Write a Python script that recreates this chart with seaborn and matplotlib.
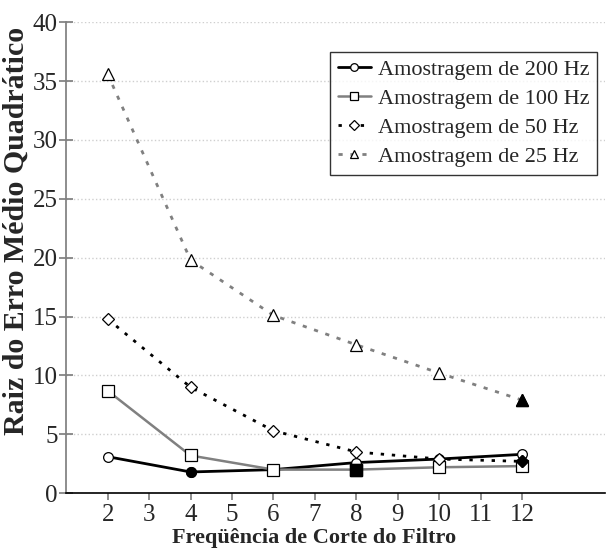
import matplotlib
matplotlib.use("Agg")
import matplotlib.pyplot as plt
import seaborn as sns
import pandas as pd

# Data
freq = [2, 4, 6, 8, 10, 12]
rmse_200 = [3.1, 1.8, 2.0, 2.6, 2.9, 3.3]
rmse_100 = [8.7, 3.2, 2.0, 2.0, 2.2, 2.3]
rmse_50 = [14.8, 9.0, 5.3, 3.5, 2.9, 2.7]
rmse_25 = [35.6, 19.8, 15.1, 12.6, 10.2, 7.9]
series_names = ["Amostragem de 200 Hz", "Amostragem de 100 Hz",
                "Amostragem de 50 Hz", "Amostragem de 25 Hz"]
# points drawn with a filled marker in the original
filled_idx = [1, 3, 5, 5]

sns.set_theme(style="white")
plt.rcParams['font.family'] = ['Liberation Serif', 'DejaVu Serif']

rows = []
for name, vals in zip(series_names, [rmse_200, rmse_100, rmse_50, rmse_25]):
    for f, v in zip(freq, vals):
        rows.append({"freq": f, "rmse": v, "serie": name})
df = pd.DataFrame(rows)

fig, ax = plt.subplots(figsize=(6.07, 5.56), dpi=100)
fig.subplots_adjust(left=0.109, right=0.997, bottom=0.113, top=0.960)

styles = {
    series_names[0]: dict(color="black", lw=2.0, ls="-", marker="o"),
    series_names[1]: dict(color="#808080", lw=1.8, ls="-", marker="s"),
    series_names[2]: dict(color="black", lw=2.0, ls=(0, (1.2, 2.8)), marker="D"),
    series_names[3]: dict(color="#808080", lw=2.0, ls=(0, (1.5, 2.8)), marker="^"),
}
msizes = {"o": 7, "s": 8, "D": 6.5, "^": 8}

for i, name in enumerate(series_names):
    st = styles[name]
    sub = df[df["serie"] == name]
    sns.lineplot(data=sub, x="freq", y="rmse", ax=ax, color=st["color"],
                 lw=st["lw"], ls=st["ls"], marker=st["marker"],
                 markersize=msizes[st["marker"]], markerfacecolor="white",
                 markeredgecolor="black", markeredgewidth=0.9, label=name)
    k = filled_idx[i]
    ax.plot(sub["freq"].iloc[k], sub["rmse"].iloc[k], marker=st["marker"],
            markersize=msizes[st["marker"]], color="black", ls="none")

ax.set_xlim(1, 14)
ax.set_ylim(0, 40)
ax.set_xticks(range(2, 13))
ax.set_yticks(range(0, 41, 5))
ax.yaxis.grid(True, color="#cfcfcf", ls=":", lw=1)
ax.xaxis.grid(False)
ax.spines["top"].set_visible(False)
ax.spines["right"].set_visible(False)
ax.spines["left"].set_color("#808080")
ax.spines["bottom"].set_color("black")
ax.spines["bottom"].set_linewidth(1.2)
ax.tick_params(axis="y", which="major", direction="inout", length=10,
               color="#808080", labelsize=18, pad=1)
ax.tick_params(axis="x", which="major", direction="out", length=5,
               color="#808080", labelsize=18, pad=3)
ax.tick_params(left=True, bottom=True)

ax.set_xlabel("Freqüência de Corte do Filtro", fontsize=16, fontweight="bold",
              labelpad=0)
ax.xaxis.set_label_coords(0.46, -0.074)
ax.set_ylabel("Raiz do Erro Médio Quadrático", fontsize=21.5, fontweight="bold")
ax.yaxis.set_label_coords(-0.068, 0.557)

leg = ax.legend(loc="upper right", bbox_to_anchor=(0.985, 0.937),
                fontsize=16, frameon=True, fancybox=False, borderpad=0.35,
                labelspacing=0.38, handlelength=1.5, handletextpad=0.3,
                borderaxespad=0)
leg.get_frame().set_edgecolor("black")
leg.get_frame().set_linewidth(1.0)
for h in leg.legend_handles:
    h.set_markersize(5.5)

fig.savefig("out.png", dpi=100)
